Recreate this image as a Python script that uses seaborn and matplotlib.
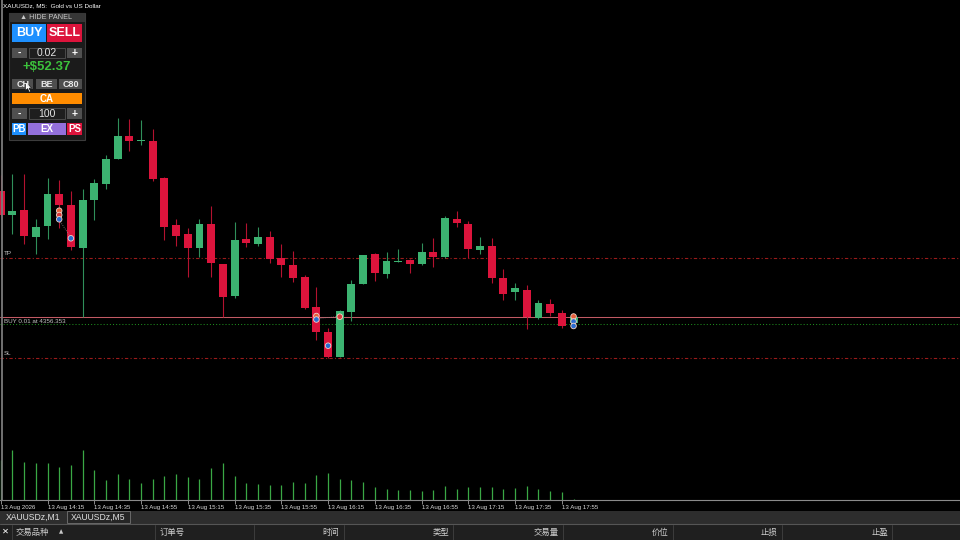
import matplotlib
matplotlib.use('Agg')
import matplotlib.pyplot as plt
from matplotlib.patches import Rectangle, Polygon
from matplotlib.transforms import blended_transform_factory
import pandas as pd
import seaborn as sns

# XAUUSDz M5 candles, 13 Aug 13:55 .. 17:55
times = pd.date_range('2026-08-13 13:55', periods=50, freq='5min')
opens = [4368.95, 4366.55, 4367.05, 4364.35, 4365.45, 4368.65, 4367.55, 4363.25, 4368.05, 4369.65,
         4372.15, 4374.45, 4373.95, 4373.95, 4370.25, 4365.55, 4364.65, 4363.25, 4365.65, 4361.65,
         4358.45, 4364.15, 4363.65, 4364.35, 4362.25, 4361.55, 4360.35, 4357.35, 4354.85, 4352.35,
         4356.85, 4359.65, 4362.65, 4360.65, 4361.85, 4362.05, 4361.65, 4362.85, 4362.35, 4366.15,
         4365.65, 4363.05, 4363.45, 4360.25, 4358.85, 4359.05, 4356.25, 4357.65, 4356.75, 4355.75]
highs = [4370.55, 4370.65, 4370.65, 4366.15, 4370.25, 4370.05, 4368.95, 4369.15, 4370.15, 4372.55,
         4376.25, 4376.15, 4376.05, 4375.15, 4370.35, 4366.15, 4365.25, 4366.15, 4367.45, 4361.65,
         4365.85, 4365.75, 4365.35, 4364.95, 4363.65, 4362.95, 4360.55, 4359.35, 4355.25, 4357.05,
         4360.05, 4362.55, 4362.75, 4362.85, 4363.15, 4362.15, 4363.75, 4364.25, 4366.45, 4366.95,
         4365.95, 4364.35, 4364.25, 4361.15, 4359.75, 4359.55, 4358.05, 4358.15, 4357.05, 4356.55]
lows = [4366.45, 4364.65, 4363.65, 4362.65, 4364.15, 4365.25, 4363.05, 4356.35, 4366.05, 4369.15,
        4372.15, 4372.95, 4373.55, 4369.95, 4364.05, 4363.45, 4360.35, 4362.35, 4360.35, 4356.35,
        4358.25, 4363.35, 4363.45, 4361.75, 4360.35, 4359.85, 4357.15, 4354.05, 4352.25, 4352.35,
        4355.95, 4359.65, 4359.95, 4360.25, 4361.85, 4360.75, 4361.55, 4361.35, 4362.25, 4365.35,
        4362.25, 4362.65, 4359.75, 4358.05, 4358.05, 4355.15, 4356.15, 4356.45, 4355.25, 4355.55]
closes = [4366.55, 4366.95, 4364.45, 4365.35, 4368.65, 4367.55, 4363.35, 4368.05, 4369.75, 4372.15,
          4374.45, 4373.95, 4374.05, 4370.15, 4365.35, 4364.45, 4363.25, 4365.65, 4361.75, 4358.35,
          4364.05, 4363.75, 4364.35, 4362.15, 4361.55, 4360.25, 4357.25, 4354.85, 4352.35, 4356.95,
          4359.65, 4362.55, 4360.75, 4361.95, 4361.95, 4361.65, 4362.85, 4362.35, 4366.25, 4365.75,
          4363.15, 4363.45, 4360.25, 4358.65, 4359.25, 4356.35, 4357.75, 4356.75, 4355.45, 4356.35]
volumes = [800, 990, 750, 730, 730, 660, 690, 990, 590, 400,
           510, 420, 340, 410, 470, 520, 460, 420, 630, 740,
           470, 340, 310, 300, 290, 360, 340, 500, 530, 410,
           390, 360, 260, 220, 190, 190, 180, 190, 280, 210,
           260, 250, 260, 220, 230, 280, 220, 180, 150, 20]

# order levels
buy_price = 4356.353
tp_price = 4362.30
sl_price = 4352.30
bid_price = 4355.65

# trade history markers
mark_idx = [5, 5, 5, 6, 27, 27, 28, 29, 49, 49, 49]
mark_price = [4366.98, 4366.55, 4366.12, 4364.22, 4356.45, 4356.10, 4353.48, 4356.38, 4356.40, 4355.90, 4355.45]
mark_kind = ['open', 'close', 'buy', 'buy', 'open', 'buy', 'buy', 'close', 'open', 'buy', 'buy']
link_idx = [(5, 6), (27, 29)]
link_price = [(4366.05, 4364.30), (4356.20, 4356.40)]

# column headers of the trade tab
col_names = ['交易品种', '订单号', '时间', '类型', '交易量', '价位', '止损', '止盈']
col_x = [16, 160, 339, 449, 559, 668, 777, 888]
col_ha = ['left', 'left', 'right', 'right', 'right', 'right', 'right', 'right']
col_sep = [12, 155, 254, 343.7, 452.7, 563, 672.7, 781.7, 891.7]

sns.set_theme(style='dark', rc={'axes.facecolor': 'black', 'figure.facecolor': 'black'})
plt.rcParams['font.family'] = ['Liberation Sans', 'DejaVu Sans', 'Noto Sans CJK SC']

W, H = 960, 540
fig = plt.figure(figsize=(9.6, 5.4), dpi=100)
fig.patch.set_facecolor('black')

# main chart area, pixel 0..499.5 vertically
ax = fig.add_axes([0, 40.5 / H, 1, 499.5 / H])
ax.set_facecolor('black')
step = 11.69
ax.set_xlim(-0.75 / step, (W - 0.75) / step)
ax.set_ylim(4388.05 - 49.95, 4388.05)

idx = list(range(len(opens)))
up = [c >= o for o, c in zip(opens, closes)]
body_col = ['#3cb371' if u else '#dc143c' for u in up]
wick_col = ['#2f8f5a' if u else '#b3122f' for u in up]
bottoms = [min(o, c) for o, c in zip(opens, closes)]
heights = [max(abs(c - o), 0.1) for o, c in zip(opens, closes)]

# volumes on a twin scale
axv = ax.twinx()
axv.set_ylim(0, 9990)
axv.vlines(idx, 0, volumes, color='#3aa845', lw=0.9)
axv.set_yticks([])
for s in axv.spines.values():
    s.set_visible(False)
axv.grid(False)

ax.set_zorder(axv.get_zorder() + 1)
ax.patch.set_visible(False)
axv.patch.set_facecolor('black')

ax.vlines(idx, lows, highs, color=wick_col, lw=0.8, zorder=2)
ax.bar(idx, heights, bottom=bottoms, width=0.68, color=body_col, lw=0, zorder=3)

# levels
ax.axhline(tp_price, color='#9b1b1b', lw=0.8, ls=(0, (3, 2, 1, 2)), zorder=1)
ax.axhline(sl_price, color='#9b1b1b', lw=0.8, ls=(0, (3, 2, 1, 2)), zorder=1)
ax.axhline(buy_price, color='#c25a64', lw=0.75, zorder=1)
ax.axhline(bid_price, color='#1e8c1e', lw=0.75, ls=(0, (1, 2)), zorder=1)

tr = blended_transform_factory(ax.transAxes, ax.transData)
lab = dict(color='#c4c4c4', fontsize=4.5, va='center', transform=tr)
ax.text(0.004, tp_price + 0.36, 'TP', **lab)
ax.text(0.004, buy_price - 0.42, 'BUY 0.01 at 4356.353', **lab)
ax.text(0.004, sl_price + 0.36, 'SL', **lab)

# trade markers
for (a, b), (p, q) in zip(link_idx, link_price):
    ax.plot([a, b], [p, q], color='#8a8a8a', lw=0.6, ls=(0, (1, 1.5)), zorder=4)
sns.scatterplot(x=mark_idx, y=mark_price, hue=mark_kind, ax=ax, s=16,
                palette={'open': '#e8603a', 'close': '#d83a3a', 'buy': '#2a6cd0'},
                edgecolor='#f2d6cc', linewidth=0.6, legend=False, zorder=5)

# time axis
for s in ['left', 'right', 'top']:
    ax.spines[s].set_visible(False)
ax.spines['bottom'].set_color('#8a8a8a')
ax.spines['bottom'].set_linewidth(0.8)
ticks = list(range(0, 50, 4))
tick_lab = ['13 Aug 2026'] + [times[i].strftime('13 Aug %H:%M') for i in ticks[1:]]
ax.set_xticks(ticks)
ax.set_xticklabels(tick_lab, ha='left')
ax.tick_params(axis='x', direction='out', length=3, width=0.7, color='#8a8a8a',
               labelsize=4.4, labelcolor='#dadada', pad=1.2, bottom=True)
ax.set_yticks([])
ax.grid(False)

# overlay in pixel coordinates for the terminal UI
ui = fig.add_axes([0, 0, 1, 1], zorder=10)
ui.set_xlim(0, W)
ui.set_ylim(H, 0)
ui.axis('off')
ui.patch.set_visible(False)

ui.plot([1.5, 1.5], [0, 499.5], color='#7a7a7a', lw=1.3)
ui.text(3, 6, 'XAUUSDz, M5:  Gold vs US Dollar', color='white', fontsize=4.6, va='center')

# bottom tabs and toolbox header
ui.add_patch(Rectangle((0, 510.5), W, 13, fc='#2d2d2d', ec='none'))
ui.add_patch(Rectangle((66.7, 511), 63.3, 12, fc='#262626', ec='#6a6a6a', lw=0.7))
ui.text(33, 517.2, 'XAUUSDz,M1', color='#e0e0e0', fontsize=6.2, ha='center', va='center')
ui.text(98, 517.2, 'XAUUSDz,M5', color='#e0e0e0', fontsize=6.2, ha='center', va='center')
ui.plot([0, W], [523.8, 523.8], color='#555555', lw=0.8)
ui.add_patch(Rectangle((0, 524.3), W, 16, fc='#1f1f1f', ec='none'))
for x in col_sep:
    ui.plot([x, x], [524.5, 540], color='#3c3c3c', lw=0.7)
ui.text(5.5, 531.5, '✕', color='white', fontsize=6, fontweight='bold', ha='center', va='center',
        family='DejaVu Sans')
ui.text(61, 531.5, '▲', color='#c8c8c8', fontsize=4, ha='center', va='center', family='DejaVu Sans')
for name, x, ha in zip(col_names, col_x, col_ha):
    ui.text(x, 532, name, color='#cfcfcf', fontsize=6, ha=ha, va='center',
            family=['Noto Sans CJK SC', 'DejaVu Sans'])

# trading panel
def button(x0, y0, x1, y1, fc, label, size, color='white', ec='none', weight='bold'):
    ui.add_patch(Rectangle((x0, y0), x1 - x0, y1 - y0, fc=fc, ec=ec, lw=0.7))
    ui.text((x0 + x1) / 2, (y0 + y1) / 2 + 0.3, label, color=color, fontsize=size, ha='center',
            va='center', fontweight=weight, family='Liberation Sans')

ui.add_patch(Rectangle((8.5, 12.5), 76.5, 127, fc='#1b1b1b', ec='#3c3c3c', lw=0.8))
ui.add_patch(Rectangle((9, 13), 75.5, 8.5, fc='#363636', ec='none'))
ui.text(46.5, 17.2, '▲ HIDE PANEL', color='#c8c8c8', fontsize=5.2, ha='center', va='center',
        family=['Liberation Sans', 'DejaVu Sans'])
button(12.3, 24, 45.7, 41.7, '#1e90ff', 'BUY', 9)
button(47.3, 24, 81.7, 41.7, '#dc143c', 'SELL', 9)
button(12.3, 47.7, 27.3, 58.3, '#505050', '-', 7.5)
button(29.3, 47.7, 65, 58.3, '#1e1e1e', '0.02', 7.5, color='#e6e6e6', ec='#4a4a4a', weight='normal')
button(66.7, 47.7, 81.7, 58.3, '#505050', '+', 7.5)
ui.text(46.7, 67.3, '+$52.37', color='#3cc23c', fontsize=9.5, fontweight='bold', ha='center',
        va='center', family='Liberation Sans')
button(12.3, 79.3, 33.3, 89.3, '#4e4e4e', 'CH', 6.5, color='#e8e8e8')
button(35.7, 79.3, 57.3, 89.3, '#4e4e4e', 'BE', 6.5, color='#e8e8e8')
button(59.3, 79.3, 81.7, 89.3, '#4e4e4e', 'C80', 6.5, color='#e8e8e8')
button(12.3, 93.3, 81.7, 104.3, '#ff8c00', 'CA', 7)
button(12.3, 107.7, 27.3, 119, '#505050', '-', 7.5)
button(29.3, 107.7, 65, 119, '#1e1e1e', '100', 7.5, color='#e6e6e6', ec='#4a4a4a', weight='normal')
button(66.7, 107.7, 81.7, 119, '#505050', '+', 7.5)
button(12.3, 122.7, 26, 135, '#1e90ff', 'PB', 7)
button(28, 122.7, 65.7, 135, '#9370db', 'EX', 7)
button(67.3, 122.7, 81.7, 135, '#dc143c', 'PS', 7)

# mouse pointer over CH
ui.add_patch(Polygon([(25.5, 81.5), (25.5, 90.5), (27.6, 88.6), (29.3, 92.2), (30.6, 91.6),
                      (29, 88.1), (31.6, 88.1)], closed=True, fc='white', ec='black', lw=0.4))

fig.savefig('out.png', dpi=100, facecolor='black')
